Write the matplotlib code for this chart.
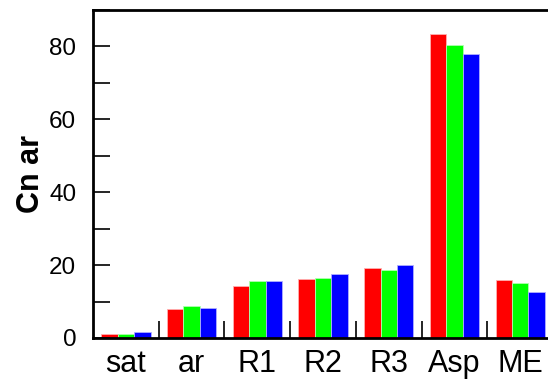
import numpy as np
import matplotlib
matplotlib.use("Agg")
import matplotlib.pyplot as plt
from matplotlib.ticker import MultipleLocator, FixedLocator

plt.rcParams['font.family'] = ['Liberation Sans', 'DejaVu Sans']

# data
categories = ['sat', 'ar', 'R1', 'R2', 'R3', 'Asp', 'ME']
red_vals = [1.2, 7.9, 14.2, 16.1, 19.1, 83.3, 15.8]
green_vals = [1.1, 8.8, 15.7, 16.4, 18.7, 80.4, 15.1]
blue_vals = [1.6, 8.2, 15.7, 17.5, 20.0, 77.8, 12.5]

fig = plt.figure(figsize=(5.48, 3.84), dpi=100)
ax = fig.add_axes([93 / 548, 46 / 384, 460 / 548, 328 / 384])

x = np.arange(len(categories))
w = 0.25
ax.bar(x - w, red_vals, w, color='#ff0000', edgecolor='#ffb0b0', linewidth=0.6)
ax.bar(x, green_vals, w, color='#00ff00', edgecolor='#b0ffb0', linewidth=0.6)
ax.bar(x + w, blue_vals, w, color='#0000ff', edgecolor='#b0b0ff', linewidth=0.6)

ax.set_xlim(-0.5, 6.5)
ax.set_ylim(0, 90)

ax.set_xticks(x)
ax.set_xticklabels(categories)
ax.xaxis.set_minor_locator(FixedLocator(np.arange(0.5, 7, 1.0)))
ax.tick_params(axis='x', which='major', length=0, pad=8, labelsize=22)
ax.tick_params(axis='x', which='minor', direction='in', length=12, width=1.2)

ax.yaxis.set_major_locator(MultipleLocator(20))
ax.yaxis.set_minor_locator(MultipleLocator(10))
ax.tick_params(axis='y', which='both', direction='in', length=12, width=1.2,
               pad=12, labelsize=17.5)

ax.set_ylabel('Cn ar', fontsize=22, fontweight='bold', labelpad=2)

for side in ['left', 'bottom', 'top']:
    ax.spines[side].set_linewidth(2)
ax.spines['right'].set_visible(False)

fig.savefig('out.png', dpi=100)
